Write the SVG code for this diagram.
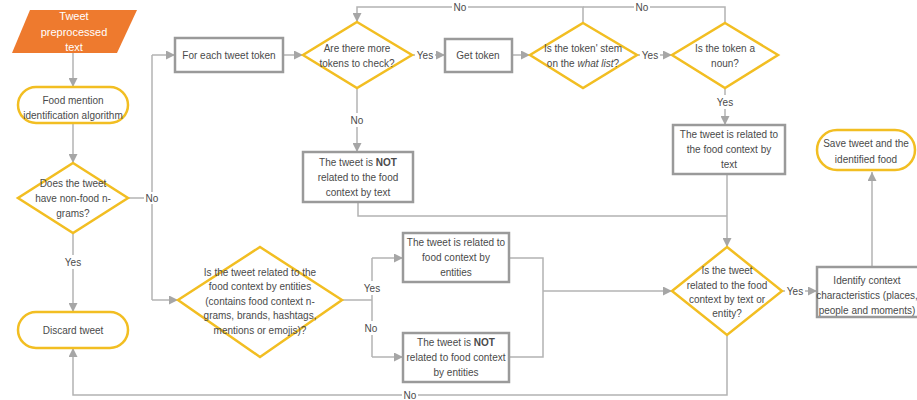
<svg xmlns="http://www.w3.org/2000/svg" width="917" height="400" viewBox="0 0 917 400">
<style>
text{font-family:"Liberation Sans",Arial,sans-serif;font-size:10px;fill:#4a4a4a;text-anchor:middle;dominant-baseline:central}
.term{fill:#fff;stroke:#F2BE22;stroke-width:2.5}
.dec{fill:#fff;stroke:#F2BE22;stroke-width:2.5}
.proc{fill:#fff;stroke:#9a9a9a;stroke-width:2.5}
.ln{fill:none;stroke:#b3b3b3;stroke-width:1.5}
.lbl{fill:#fff}
.w{fill:#fff;font-size:11px}
</style>
<defs>
<marker id="ah" viewBox="0 0 10 10" refX="10" refY="5" markerWidth="9" markerHeight="9" markerUnits="userSpaceOnUse" orient="auto">
<path d="M0,0 L10,5 L0,10 z" fill="#a6a6a6"/>
</marker>
</defs>
<rect width="917" height="400" fill="#fff"/>

<g id="connectors">
<path class="ln" d="M73,53 V87" marker-end="url(#ah)"/>
<path class="ln" d="M73,123 V163" marker-end="url(#ah)"/>
<path class="ln" d="M73,233 V312" marker-end="url(#ah)"/>
<path class="ln" d="M128,198 H152"/>
<path class="ln" d="M152,55 V300"/>
<path class="ln" d="M152,55 H175" marker-end="url(#ah)"/>
<path class="ln" d="M152,300 H178" marker-end="url(#ah)"/>
<path class="ln" d="M283,55 H303" marker-end="url(#ah)"/>
<path class="ln" d="M412,55 H445" marker-end="url(#ah)"/>
<path class="ln" d="M512,55 H530" marker-end="url(#ah)"/>
<path class="ln" d="M637,55 H672" marker-end="url(#ah)"/>
<path class="ln" d="M583,23 V7 H357 V22" marker-end="url(#ah)"/>
<path class="ln" d="M725,23 V7 H583"/>
<path class="ln" d="M357,88 V152" marker-end="url(#ah)"/>
<path class="ln" d="M725,88 V125" marker-end="url(#ah)"/>
<path class="ln" d="M727,174 V247" marker-end="url(#ah)"/>
<path class="ln" d="M358,202 V216 H727"/>
<path class="ln" d="M342,300 H372"/>
<path class="ln" d="M372,258 V357"/>
<path class="ln" d="M372,258 H403" marker-end="url(#ah)"/>
<path class="ln" d="M372,357 H403" marker-end="url(#ah)"/>
<path class="ln" d="M509,258 H543 V357 H509"/>
<path class="ln" d="M543,291 H672" marker-end="url(#ah)"/>
<path class="ln" d="M782,291 H817" marker-end="url(#ah)"/>
<path class="ln" d="M872,268 V172" marker-end="url(#ah)"/>
<path class="ln" d="M727,335 V395 H73 V348" marker-end="url(#ah)"/>
<!-- labels -->
<rect class="lbl" x="63" y="255" width="20" height="14"/><text x="73" y="262">Yes</text>
<rect class="lbl" x="144" y="192" width="16" height="12"/><text x="152" y="198">No</text>
<rect class="lbl" x="415" y="49" width="20" height="12"/><text x="425" y="55">Yes</text>
<rect class="lbl" x="640" y="49" width="20" height="12"/><text x="650" y="55">Yes</text>
<rect class="lbl" x="452" y="1" width="16" height="12"/><text x="460" y="7">No</text>
<rect class="lbl" x="634" y="1" width="16" height="12"/><text x="642" y="7">No</text>
<rect class="lbl" x="349" y="113" width="16" height="14"/><text x="357" y="120">No</text>
<rect class="lbl" x="715" y="95" width="20" height="14"/><text x="725" y="102">Yes</text>
<rect class="lbl" x="362" y="281" width="20" height="14"/><text x="372" y="288">Yes</text>
<rect class="lbl" x="363" y="321" width="16" height="14"/><text x="371" y="328">No</text>
<rect class="lbl" x="785" y="285" width="20" height="12"/><text x="795" y="291">Yes</text>
<rect class="lbl" x="402" y="389" width="16" height="12"/><text x="410" y="395">No</text>
</g>

<g id="start">
<polygon points="30,10 137,10 117,53 12,53" fill="#EE7A2E"/>
<text class="w" x="74" y="16">Tweet</text>
<text class="w" x="74" y="32">preprocessed</text>
<text class="w" x="74" y="47">text</text>
</g>

<g id="food-mention">
<rect class="term" x="18" y="87" width="110" height="36" rx="18"/>
<text x="73" y="100">Food mention</text>
<text x="73" y="115">identification algorithm</text>
</g>

<g id="non-food">
<polygon class="dec" points="73,163 128,198 73,233 18,198"/>
<text x="73" y="183">Does the tweet</text>
<text x="73" y="198">have non-food n-</text>
<text x="73" y="213">grams?</text>
</g>

<g id="discard">
<rect class="term" x="18" y="312" width="110" height="36" rx="18"/>
<text x="73" y="330">Discard tweet</text>
</g>

<g id="for-each">
<rect class="proc" x="175" y="38" width="108" height="34"/>
<text x="229" y="55">For each tweet token</text>
</g>

<g id="more-tokens">
<polygon class="dec" points="357,22 412,55 357,88 303,55"/>
<text x="357" y="48">Are there more</text>
<text x="357" y="63">tokens to check?</text>
</g>

<g id="get-token">
<rect class="proc" x="445" y="39" width="67" height="33"/>
<text x="478" y="55">Get token</text>
</g>

<g id="stem-list">
<polygon class="dec" points="583,23 637,55 583,88 530,55"/>
<text x="583" y="48">Is the token' stem</text>
<text x="583" y="63">on the <tspan font-style="italic">what list</tspan>?</text>
</g>

<g id="noun">
<polygon class="dec" points="725,23 778,55 725,88 672,55"/>
<text x="725" y="48">Is the token a</text>
<text x="725" y="63">noun?</text>
</g>

<g id="not-text">
<rect class="proc" x="303" y="152" width="110" height="50"/>
<text x="358" y="162">The tweet is <tspan font-weight="bold">NOT</tspan></text>
<text x="358" y="177">related to the food</text>
<text x="358" y="192">context by text</text>
</g>

<g id="related-text">
<rect class="proc" x="673" y="125" width="112" height="49"/>
<text x="729" y="134">The tweet is related to</text>
<text x="729" y="149">the food context by</text>
<text x="729" y="164">text</text>
</g>

<g id="save">
<rect class="term" x="817" y="130" width="98" height="40" rx="20"/>
<text x="866" y="143">Save tweet and the</text>
<text x="866" y="159">identified food</text>
</g>

<g id="entities">
<polygon class="dec" points="260,247 342,300 260,357 178,300"/>
<text x="260" y="272">Is the tweet related to the</text>
<text x="260" y="286">food context by entities</text>
<text x="260" y="301">(contains food context n-</text>
<text x="260" y="315">grams, brands, hashtags,</text>
<text x="260" y="330">mentions or emojis)?</text>
</g>

<g id="related-entities">
<rect class="proc" x="403" y="233" width="106" height="49"/>
<text x="456" y="242">The tweet is related to</text>
<text x="456" y="257">food context by</text>
<text x="456" y="272">entities</text>
</g>

<g id="not-entities">
<rect class="proc" x="403" y="333" width="106" height="49"/>
<text x="456" y="342">The tweet is <tspan font-weight="bold">NOT</tspan></text>
<text x="456" y="357">related to food context</text>
<text x="456" y="372">by entities</text>
</g>

<g id="text-or-entity">
<polygon class="dec" points="727,247 782,291 727,335 672,291"/>
<text x="727" y="270">Is the tweet</text>
<text x="727" y="285">related to the food</text>
<text x="727" y="299">context by text or</text>
<text x="727" y="313">entity?</text>
</g>

<g id="identify">
<rect class="proc" x="817" y="267" width="110" height="50"/>
<text x="867" y="280">Identify context</text>
<text x="867" y="295" font-size="9">characteristics (places,</text>
<text x="867" y="310">people and moments)</text>
</g>
</svg>
